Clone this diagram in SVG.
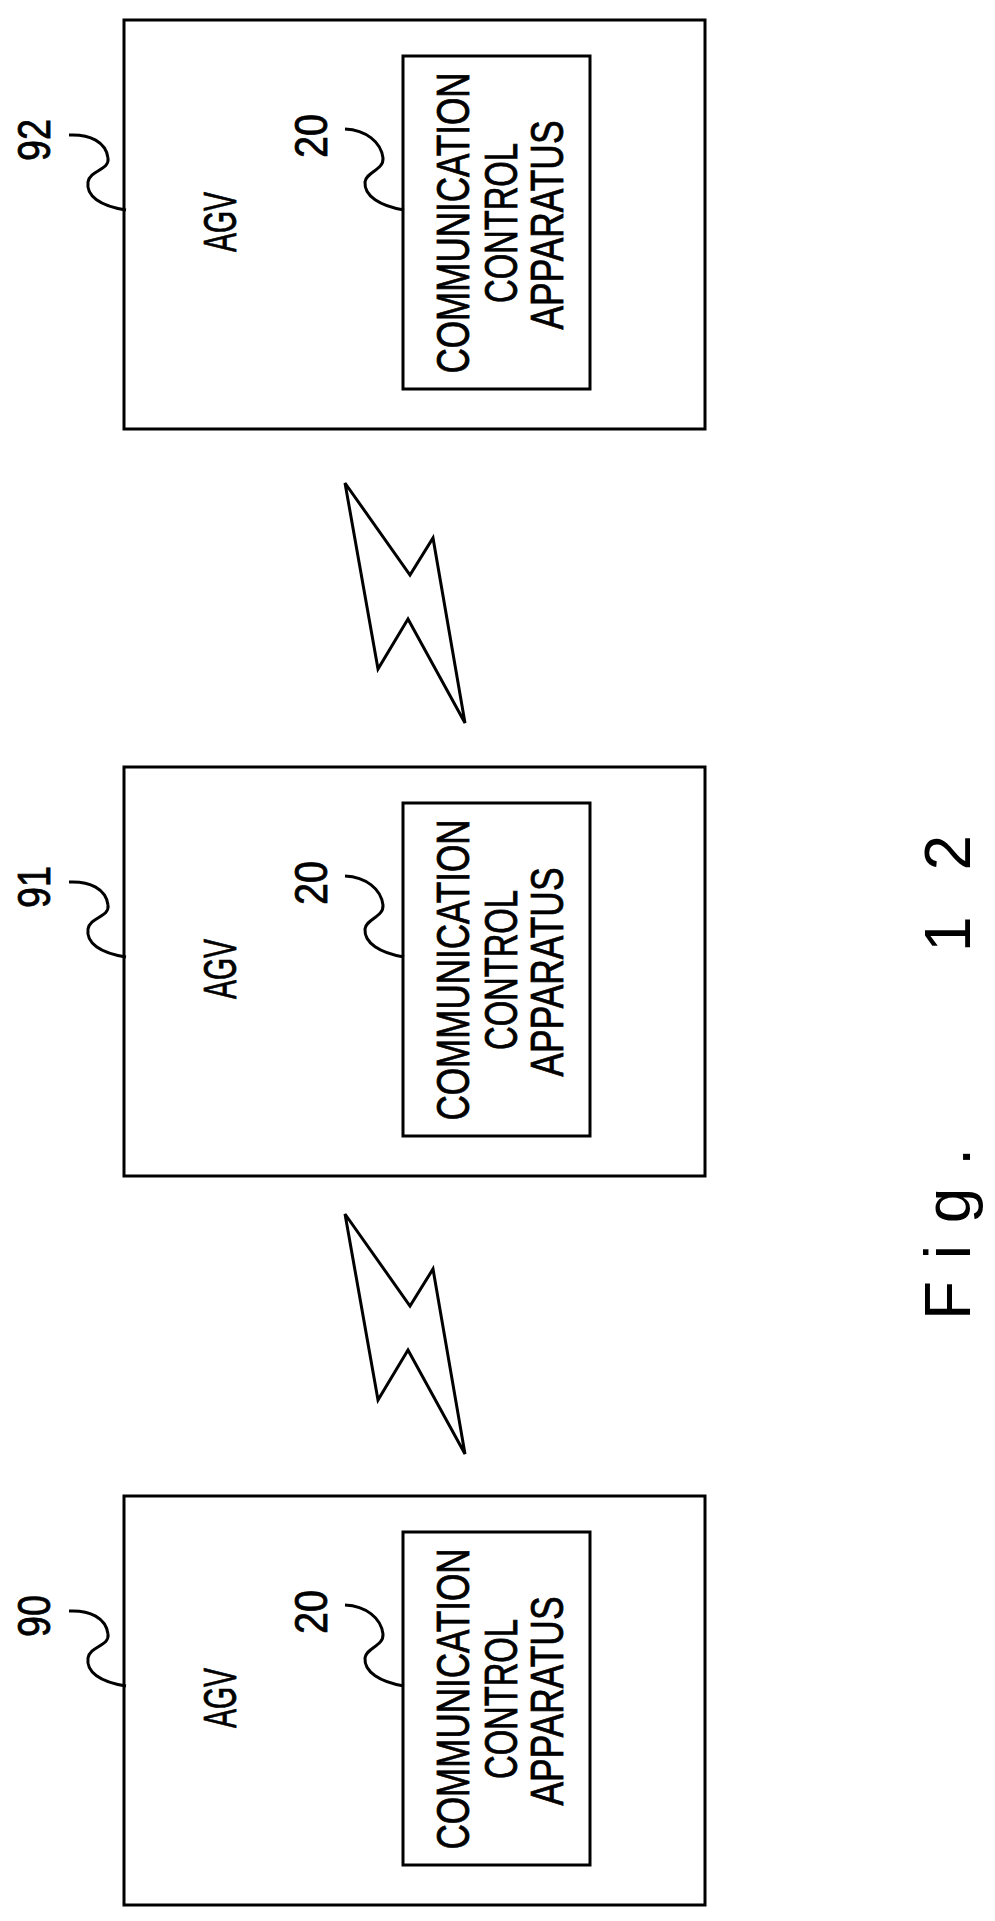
<svg xmlns="http://www.w3.org/2000/svg" width="995" height="1921" viewBox="0 0 995 1921">
<style>
.b{fill:none;stroke:#000;stroke-width:3}
.t{font-family:"Liberation Sans",Arial,sans-serif;font-size:46px;fill:#000;text-anchor:middle;stroke:#000;stroke-width:0.8}
.f{font-family:"Liberation Sans",Arial,sans-serif;font-size:64px;fill:#000}
</style>
<defs>
<g id="agv">
<rect class="b" x="124" y="20" width="581" height="409"/>
<rect class="b" x="403" y="56" width="187" height="333"/>
<path class="b" d="M69,135 C90,134 106,142 108,158 C110,170 90,170 88,182 C86,196 100,206 126,210"/>
<path class="b" d="M345,129 C366,130 381,142 383,158 C384,170 366,172 365,182 C364,196 380,206 404,210"/>
<text class="t" transform="translate(236,222) rotate(-90)" textLength="60" lengthAdjust="spacingAndGlyphs">AGV</text>
<text class="t" transform="translate(469,223) rotate(-90)" textLength="301" lengthAdjust="spacingAndGlyphs">COMMUNICATION</text>
<text class="t" transform="translate(517,223) rotate(-90)" textLength="160" lengthAdjust="spacingAndGlyphs">CONTROL</text>
<text class="t" transform="translate(563,225) rotate(-90)" textLength="209" lengthAdjust="spacingAndGlyphs">APPARATUS</text>
<text class="t" transform="translate(327,136) rotate(-90)" textLength="44" lengthAdjust="spacingAndGlyphs">20</text>
</g>
<polygon id="bolt" class="b" points="345,483 410,575 433,538 465,723 408,619 378,669"/>
</defs>
<g id="agv92"><use href="#agv"/><text class="t" transform="translate(50,140) rotate(-90)" textLength="42" lengthAdjust="spacingAndGlyphs">92</text></g>
<g id="agv91"><use href="#agv" y="747"/><text class="t" transform="translate(50,887) rotate(-90)" textLength="42" lengthAdjust="spacingAndGlyphs">91</text></g>
<g id="agv90"><use href="#agv" y="1476"/><text class="t" transform="translate(50,1616) rotate(-90)" textLength="42" lengthAdjust="spacingAndGlyphs">90</text></g>
<g id="connectors">
<use href="#bolt"/>
<use href="#bolt" y="731"/>
</g>
<g id="caption">
<text class="f" transform="translate(970,1320) rotate(-90)" textLength="172" lengthAdjust="spacing">Fig.</text>
<text class="f" transform="translate(970,952) rotate(-90)" textLength="117" lengthAdjust="spacing">12</text>
</g>
</svg>
